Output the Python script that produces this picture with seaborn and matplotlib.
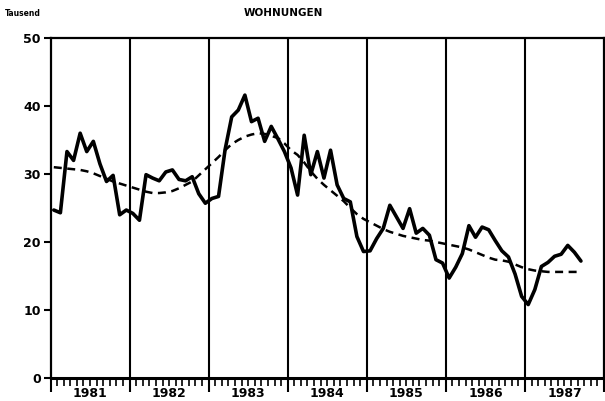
import numpy as np
import pandas as pd
import matplotlib as mpl
mpl.use("Agg")
import matplotlib.pyplot as plt
import matplotlib.transforms as mtransforms
import seaborn as sb

sb.set_style("ticks")
plt.rcParams['font.family'] = ['DejaVu Sans']
plt.rcParams['text.color'] = 'black'
plt.rcParams['xtick.color'] = 'black'
plt.rcParams['ytick.color'] = 'black'

# Wohnungen, Tausend, monatlich Jan 1981 - Sep 1987
years = [1981, 1982, 1983, 1984, 1985, 1986, 1987]
year_labels = ['1981', '1982', '1983', '1984', '1985', '1986', '1987']

wohnungen = [
    24.7, 24.3, 33.3, 32.0, 36.0, 33.3, 34.8, 31.5, 28.9, 29.8, 24.0, 24.7,
    24.2, 23.2, 29.9, 29.4, 29.0, 30.3, 30.6, 29.2, 29.0, 29.6, 27.1, 25.7,
    26.4, 26.7, 33.6, 38.4, 39.4, 41.6, 37.7, 38.2, 34.8, 37.0, 35.2, 33.3,
    30.9, 26.9, 35.7, 29.9, 33.3, 29.4, 33.5, 28.4, 26.4, 25.9, 20.8, 18.6,
    18.7, 20.5, 22.0, 25.4, 23.7, 22.0, 24.9, 21.3, 22.0, 21.0, 17.4, 16.9,
    14.7, 16.3, 18.3, 22.4, 20.7, 22.2, 21.8, 20.2, 18.7, 17.8, 15.3, 12.0,
    10.8, 13.0, 16.4, 17.0, 17.9, 18.2, 19.5, 18.5, 17.2,
]

trend = [
    31.0, 30.9, 30.8, 30.7, 30.6, 30.4, 30.1, 29.7, 29.3, 28.9, 28.6, 28.3,
    28.0, 27.7, 27.4, 27.2, 27.2, 27.3, 27.5, 27.9, 28.4, 28.9, 29.8, 30.7,
    31.6, 32.5, 33.5, 34.4, 35.0, 35.5, 35.8, 36.0, 35.9, 35.6, 35.3, 34.5,
    33.5, 32.8, 31.7, 30.4, 29.3, 28.4, 27.6, 26.8, 26.0, 25.0, 24.1, 23.4,
    22.9, 22.4, 21.9, 21.5, 21.2, 20.9, 20.7, 20.5, 20.3, 20.2, 20.0, 19.8,
    19.6, 19.4, 19.2, 18.9, 18.5, 18.1, 17.7, 17.4, 17.3, 17.1, 16.7, 16.3,
    16.0, 15.8, 15.7, 15.6, 15.6, 15.6, 15.6, 15.6, 15.6,
]

dates = pd.date_range("1981-01-01", periods=len(wohnungen), freq="MS")
df = pd.DataFrame({
    "t": dates.year + (dates.month - 0.5) / 12.0,
    "Wohnungen": wohnungen,
    "Trend": trend,
})

fig = plt.figure(figsize=(6.05, 4.01), dpi=100)
ax = fig.add_axes([50.5 / 605, 23 / 401, 553.5 / 605, 340 / 401])

sb.lineplot(data=df, x="t", y="Wohnungen", ax=ax, color="black", lw=2.6)
sb.lineplot(data=df, x="t", y="Trend", ax=ax, color="black", lw=1.8,
            linestyle=(0, (3.2, 2.2)))

ax.set_xlim(1981, 1981 + 553.5 / 79.5)
ax.set_ylim(0, 50)
ax.set_xlabel("")
ax.set_ylabel("")

for y in years[1:]:
    ax.axvline(y, color="black", lw=1.5, zorder=1)

for s in ax.spines.values():
    s.set_visible(True)
    s.set_color("black")
    s.set_linewidth(1.6)
ax.spines["bottom"].set_linewidth(2.2)

ax.set_yticks([0, 10, 20, 30, 40, 50])
ax.set_yticklabels(["0", "10", "20", "30", "40", "50"],
                   fontweight="bold", fontsize=9)
ax.tick_params(axis="y", left=True, direction="out", length=5, width=1.5,
               pad=2, colors="black")

ax.set_xticks(years + [1988])
ax.set_xticklabels([])
ax.set_xticks(np.arange(1981, 1988, 1 / 12.0), minor=True)
ax.tick_params(axis="x", which="major", bottom=True, direction="out",
               length=10, width=1.5, colors="black")
ax.tick_params(axis="x", which="minor", bottom=True, direction="out",
               length=6, width=1.2, colors="black")

trans = mtransforms.blended_transform_factory(ax.transData, ax.transAxes)
for y, lab in zip(years, year_labels):
    ax.text(y + 0.5, -0.045, lab, transform=trans, ha="center", va="center",
            fontsize=9, fontweight="bold", color="black")

fig.text(283 / 605, 1 - 13 / 401, "WOHNUNGEN", ha="center", va="center",
         fontsize=7.5, fontweight="bold", color="black")
fig.text(5 / 605, 1 - 13 / 401, "Tausend", ha="left", va="center",
         fontsize=5.5, fontweight="bold", color="black")

fig.savefig("out.png", dpi=100)
